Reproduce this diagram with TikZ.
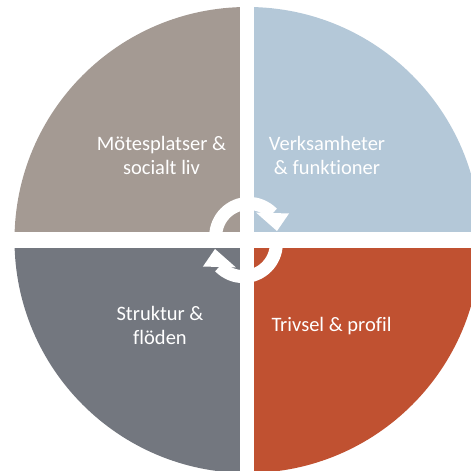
\documentclass[tikz,border=0pt]{standalone}
\usepackage{fontspec}
\setmainfont{Carlito}[Ligatures=NoCommon]

\definecolor{meetcol}{HTML}{A49A93}
\definecolor{actcol}{HTML}{B4C8D8}
\definecolor{structcol}{HTML}{73777F}
\definecolor{profcol}{HTML}{C05131}

\begin{document}
\begin{tikzpicture}[x=1pt, y=1pt, line join=round,
	font=\fontsize{20.5}{24}\selectfont,
	quadtext/.style={text=white, align=center, inner sep=0pt},
	turn/.style={draw=white, line width=13pt}]
	\useasboundingbox (-247.5,-231) rectangle (223.5,240);
	\coordinate (O) at (0,0);
	\coordinate (U) at (1.2,3.6);
	\coordinate (L) at (-4.2,-3.6);
	
	% four quarters of the wheel
	\fill[meetcol] (O) -- (90:233) arc[start angle=90, end angle=180, radius=233] -- cycle;
	\fill[actcol] (O) -- (0:233) arc[start angle=0, end angle=90, radius=233] -- cycle;
	\fill[structcol] (O) -- (180:233) arc[start angle=180, end angle=270, radius=233] -- cycle;
	\fill[profcol] (O) -- (270:233) arc[start angle=270, end angle=360, radius=233] -- cycle;
	
	% white cross between the quarters
	\fill[white] (-7,-240) rectangle (7,240);
	\fill[white] (-240,-8.3) rectangle (240,8.3);
	
	% turning arrows in the middle
	\draw[turn] (U) ++(180:33) arc[start angle=180, end angle=44, radius=33];
	\fill[white] (8.5,27.5) -- (41.5,26.5) -- (29.5,9) -- cycle;
	\draw[turn] (L) ++(0:33) arc[start angle=0, end angle=-136, radius=33];
	\fill[white] (-11.5,-27.5) -- (-44.5,-26.5) -- (-32.5,-9) -- cycle;
	
	\node[quadtext] (meet) at (-86,85) {Mötesplatser \&\\socialt liv};
	\node[quadtext] (act) at (79.5,85) {Verksamheter\\\& funktioner};
	\node[quadtext] (struct) at (-87.5,-85) {Struktur \&\\flöden};
	\node[quadtext] (prof) at (84,-86.5) {Trivsel \& profil};
\end{tikzpicture}
\end{document}
